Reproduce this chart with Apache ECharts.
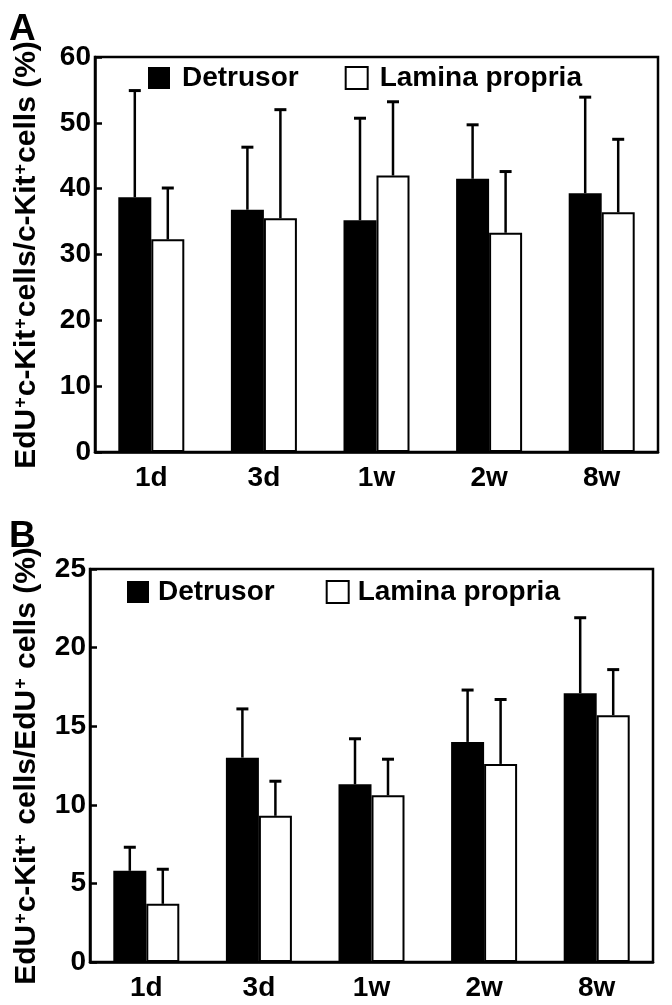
<!DOCTYPE html>
<html><head><meta charset="utf-8">
<script src="https://cdn.jsdelivr.net/npm/echarts@6/dist/echarts.min.js"></script>
<style>html,body{margin:0;padding:0;background:#fff}#c{width:672px;height:1005px}</style>
</head><body><div id="c"></div>
<script>
// ---- data ----
const categories = ['1d', '3d', '1w', '2w', '8w'];
// Panel A: EdU+c-Kit+ cells / c-Kit+ cells (%)
const aDetrusor = [38.7, 36.8, 35.2, 41.5, 39.3];
const aDetrusorTop = [54.9, 46.3, 50.7, 49.7, 53.9];   // mean + SD
const aLamina = [32.3, 35.5, 42.0, 33.3, 36.4];
const aLaminaTop = [40.1, 52.0, 53.2, 42.6, 47.5];
const aTicks = [0, 10, 20, 30, 40, 50, 60];
// Panel B: EdU+c-Kit+ cells / EdU+ cells (%)
const bDetrusor = [5.8, 13.0, 11.3, 14.0, 17.1];
const bDetrusorTop = [7.3, 16.1, 14.2, 17.3, 21.9];
const bLamina = [3.7, 9.3, 10.6, 12.6, 15.7];
const bLaminaTop = [5.9, 11.5, 12.9, 16.7, 18.6];
const bTicks = [0, 5, 10, 15, 20, 25];
const seriesNames = ['Detrusor', 'Lamina propria'];
const titleA = ['EdU', '+', 'c-Kit', '+', 'cells/c-Kit', '+', 'cells (%)'];
const titleB = ['EdU', '+', 'c-Kit', '+', ' cells/EdU', '+', ' cells (%)'];

// ---- styles ----
const FONT = '"Liberation Sans", Arial, sans-serif';
const BAR_W = 33;
const LW = 2.5;

const chart = echarts.init(document.getElementById('c'), null, {renderer: 'canvas'});

function richText(parts) {
  return parts.map(p => p === '+' ? '{s|+}' : '{n|' + p + '}').join('');
}
const richTitle = {
  n: {fontSize: 30, fontWeight: 'bold', fontFamily: FONT, fill: '#000'},
  s: {fontSize: 18, fontWeight: 'bold', fontFamily: FONT, fill: '#000', verticalAlign: 'top', padding: [0, 1, 0, 1]}
};

function yAxis(gi, ticks) {
  return {
    type: 'value', gridIndex: gi, min: ticks[0], max: ticks[ticks.length - 1],
    interval: ticks[1] - ticks[0],
    axisLine: {show: true, lineStyle: {color: '#000', width: LW}},
    axisTick: {show: true, inside: true, length: 7, lineStyle: {color: '#000', width: LW}},
    splitLine: {show: false},
    axisLabel: {color: '#000', fontSize: 28, fontWeight: 'bold', fontFamily: FONT, margin: 4}
  };
}
function xAxis(gi) {
  return {
    type: 'category', gridIndex: gi, data: categories,
    axisLine: {show: true, lineStyle: {color: '#000', width: LW}},
    axisTick: {show: false},
    axisLabel: {color: '#000', fontSize: 28, fontWeight: 'bold', fontFamily: FONT, margin: 12}
  };
}
function barSeries(gi, name, values, filled) {
  return {
    type: 'bar', name: name, xAxisIndex: gi, yAxisIndex: gi, data: values,
    barWidth: BAR_W, barGap: '0%',
    itemStyle: filled ? {color: '#000', borderColor: '#000', borderWidth: 0}
                      : {color: '#fff', borderColor: '#000', borderWidth: 2},
    silent: true, z: 2
  };
}
function errSeries(gi, values, tops, offset) {
  return {
    type: 'custom', xAxisIndex: gi, yAxisIndex: gi, silent: true, z: 3,
    data: values.map((v, i) => [i, v, tops[i]]),
    encode: {x: 0, y: [1, 2]},
    renderItem(params, api) {
      const p0 = api.coord([api.value(0), api.value(1)]);
      const p1 = api.coord([api.value(0), api.value(2)]);
      const x = p0[0] + offset;
      return {type: 'group', children: [
        {type: 'line', shape: {x1: x, y1: p0[1], x2: x, y2: p1[1]}, style: {stroke: '#000', lineWidth: LW}},
        {type: 'line', shape: {x1: x - 6, y1: p1[1], x2: x + 6, y2: p1[1]}, style: {stroke: '#000', lineWidth: 3}}
      ]};
    }
  };
}
function legend(left, top, gap, textPad) {
  return {
    left: left, top: top, padding: 0, itemWidth: 22, itemHeight: 22, itemGap: gap, icon: 'rect',
    selectedMode: false,
    textStyle: {color: '#000', fontSize: 28, fontWeight: 'bold', fontFamily: FONT, padding: [0, 0, 0, textPad]},
    data: [
      {name: seriesNames[0], itemStyle: {color: '#000', borderWidth: 0}},
      {name: seriesNames[1], itemStyle: {color: '#fff', borderColor: '#000', borderWidth: 2}}
    ]
  };
}
function yTitleGraphic(parts, cx, cy) {
  return {
    type: 'text', x: cx, y: cy, rotation: Math.PI / 2,
    style: {text: richText(parts), rich: richTitle, align: 'center', verticalAlign: 'middle',
            fontSize: 30, fontWeight: 'bold', fontFamily: FONT, fill: '#000'}
  };
}

const option = {
  backgroundColor: '#fff',
  animation: false,
  grid: [
    {left: 95, top: 57, width: 563, height: 395, show: true, borderColor: '#000', borderWidth: LW, backgroundColor: 'transparent'},
    {left: 90, top: 569, width: 563, height: 393, show: true, borderColor: '#000', borderWidth: LW, backgroundColor: 'transparent'}
  ],
  legend: [legend(148, 64, 46, 7), legend(127, 578, 51, 4)],
  xAxis: [xAxis(0), xAxis(1)],
  yAxis: [yAxis(0, aTicks), yAxis(1, bTicks)],
  graphic: [
    {type: 'text', left: 9, top: 11, style: {text: 'A', fontSize: 37, fontWeight: 'bold', fontFamily: FONT, fill: '#000'}},
    {type: 'text', left: 9, top: 518, style: {text: 'B', fontSize: 37, fontWeight: 'bold', fontFamily: FONT, fill: '#000'}},
    yTitleGraphic(titleA, 27, 255),
    yTitleGraphic(titleB, 27, 766)
  ],
  series: [
    barSeries(0, seriesNames[0], aDetrusor, true),
    barSeries(0, seriesNames[1], aLamina, false),
    errSeries(0, aDetrusor, aDetrusorTop, -BAR_W / 2),
    errSeries(0, aLamina, aLaminaTop, BAR_W / 2),
    barSeries(1, seriesNames[0], bDetrusor, true),
    barSeries(1, seriesNames[1], bLamina, false),
    errSeries(1, bDetrusor, bDetrusorTop, -BAR_W / 2),
    errSeries(1, bLamina, bLaminaTop, BAR_W / 2)
  ]
};
chart.setOption(option);
</script>
</body></html>
